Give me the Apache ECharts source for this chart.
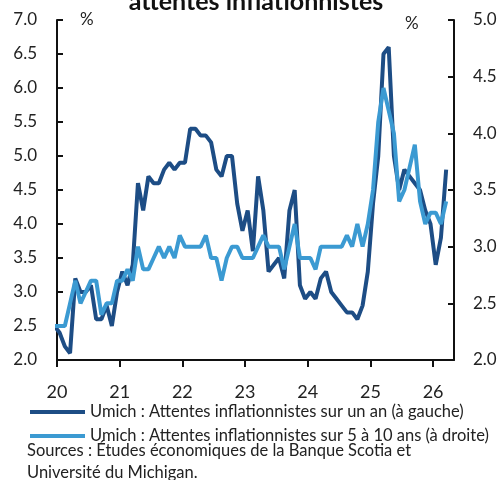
<!DOCTYPE html>
<html>
<head>
<meta charset="utf-8">
<script src="https://cdn.jsdelivr.net/npm/echarts@6/dist/echarts.min.js"></script>
<style>
  html, body { margin: 0; padding: 0; background: #fff; }
  #chart { width: 502px; height: 480px; }
</style>
</head>
<body>
<div id="chart"></div>
<script>
// months Jan 2020 .. Apr 2026
const months = [
  '2020-01','2020-02','2020-03','2020-04','2020-05','2020-06','2020-07','2020-08','2020-09','2020-10','2020-11','2020-12',
  '2021-01','2021-02','2021-03','2021-04','2021-05','2021-06','2021-07','2021-08','2021-09','2021-10','2021-11','2021-12',
  '2022-01','2022-02','2022-03','2022-04','2022-05','2022-06','2022-07','2022-08','2022-09','2022-10','2022-11','2022-12',
  '2023-01','2023-02','2023-03','2023-04','2023-05','2023-06','2023-07','2023-08','2023-09','2023-10','2023-11','2023-12',
  '2024-01','2024-02','2024-03','2024-04','2024-05','2024-06','2024-07','2024-08','2024-09','2024-10','2024-11','2024-12',
  '2025-01','2025-02','2025-03','2025-04','2025-05','2025-06','2025-07','2025-08','2025-09','2025-10','2025-11','2025-12',
  '2026-01','2026-02','2026-03','2026-04'
]

// Umich 1 an (axe gauche)
const oneYear = [
  2.5, 2.4, 2.2, 2.1, 3.2, 3.0, 3.0, 3.1, 2.6, 2.6, 2.8, 2.5,
  3.0, 3.3, 3.1, 3.4, 4.6, 4.2, 4.7, 4.6, 4.6, 4.8, 4.9, 4.8,
  4.9, 4.9, 5.4, 5.4, 5.3, 5.3, 5.2, 4.8, 4.7, 5.0, 5.0, 4.3,
  3.9, 4.2, 3.6, 4.7, 4.2, 3.3, 3.4, 3.5, 3.2, 4.2, 4.5, 3.1,
  2.9, 3.0, 2.9, 3.2, 3.3, 3.0, 2.9, 2.8, 2.7, 2.7, 2.6, 2.8,
  3.3, 4.3, 5.0, 6.5, 6.6, 5.0, 4.5, 4.8, 4.7, 4.6, 4.5, 4.2,
  4.0, 3.4, 3.8, 4.8
]

// Umich 5 à 10 ans (axe droit)
const fiveTenYear = [
  2.3, 2.3, 2.3, 2.5, 2.7, 2.5, 2.6, 2.7, 2.7, 2.4, 2.5, 2.5,
  2.7, 2.7, 2.8, 2.7, 3.0, 2.8, 2.8, 2.9, 3.0, 2.9, 3.0, 2.9,
  3.1, 3.0, 3.0, 3.0, 3.0, 3.1, 2.9, 2.9, 2.7, 2.9, 3.0, 3.0,
  2.9, 2.9, 2.9, 3.0, 3.1, 3.0, 3.0, 3.0, 2.8, 3.0, 3.2, 2.9,
  2.9, 2.9, 2.8, 3.0, 3.0, 3.0, 3.0, 3.0, 3.1, 3.0, 3.2, 3.0,
  3.2, 3.5, 4.1, 4.4, 4.2, 4.0, 3.4, 3.5, 3.7, 3.9, 3.4, 3.2,
  3.3, 3.3, 3.2, 3.4
]

const yearLabels = ['20', '21', '22', '23', '24', '25', '26']

const seriesNames = [
  'Umich : Attentes inflationnistes sur un an (à gauche)',
  'Umich : Attentes inflationnistes sur 5 à 10 ans (à droite)'
]

const FONT = 'Lato'
const DARK = '#1d4d85'
const LIGHT = '#3b9ad2'

// month index from Jan 2020
const monthIndex = (m) => {
  const [y, mo] = m.split('-').map(Number)
  return (y - 2020) * 12 + (mo - 1)
}
// year ticks sit half a month after each january point
const yearTicks = yearLabels.map((y, i) => i * 12 + 0.5)

const chart = echarts.init(document.getElementById('chart'), null, { renderer: 'canvas' })

const option = {
  animation: false,
  textStyle: { fontFamily: FONT },
  grid: {
    left: 57,
    right: 48,
    top: 20,
    bottom: 120,
    outerBoundsMode: 'none'
  },
  graphic: [
    {
      type: 'text',
      x: 256,
      y: -11,
      style: {
        text: 'attentes inflationnistes',
        font: 'bold 25px ' + FONT,
        textAlign: 'center',
        fill: '#111'
      }
    },
    {
      type: 'text', x: 80, y: 11,
      style: { text: '%', font: '17px ' + FONT, fill: '#222' }
    },
    {
      type: 'text', x: 405, y: 15,
      style: { text: '%', font: '17px ' + FONT, fill: '#222' }
    },
    {
      type: 'text', x: 27, y: 440,
      style: {
        text: 'Sources : Études économiques de la Banque Scotia et\nUniversité du Michigan.',
        font: '16.5px ' + FONT,
        lineHeight: 22,
        fill: '#222'
      }
    }
  ],
  legend: {
    orient: 'vertical',
    left: 30,
    top: 403,
    icon: 'rect',
    itemWidth: 55,
    itemHeight: 4,
    itemGap: 6,
    padding: 0,
    textStyle: { fontSize: 16.5, lineHeight: 18, color: '#222', fontFamily: FONT },
    data: seriesNames
  },
  xAxis: {
    type: 'value',
    min: 0.5,
    max: 76.5,
    splitLine: { show: false },
    axisLine: { show: true, lineStyle: { color: '#111', width: 2 } },
    axisTick: {
      show: true,
      length: 7,
      lineStyle: { color: '#111', width: 2 },
      customValues: yearTicks
    },
    axisLabel: {
      customValues: yearTicks,
      margin: 23,
      fontSize: 18,
      color: '#222',
      formatter: (v) => yearLabels[Math.round((v - 0.5) / 12)] || ''
    }
  },
  yAxis: [
    {
      type: 'value',
      min: 2,
      max: 7,
      interval: 0.5,
      splitLine: { show: false },
      axisLine: { show: true, lineStyle: { color: '#111', width: 2 } },
      axisTick: { show: true, inside: true, length: 6, lineStyle: { color: '#111', width: 2 } },
      axisLabel: { margin: 20, fontSize: 17, color: '#222', formatter: (v) => v.toFixed(1) }
    },
    {
      type: 'value',
      min: 2,
      max: 5,
      interval: 0.5,
      position: 'right',
      splitLine: { show: false },
      axisLine: { show: true, lineStyle: { color: '#111', width: 2 } },
      axisTick: { show: true, inside: true, length: 6, lineStyle: { color: '#111', width: 2 } },
      axisLabel: { margin: 19, fontSize: 17, color: '#222', formatter: (v) => v.toFixed(1) }
    }
  ],
  series: [
    {
      name: seriesNames[0],
      type: 'line',
      yAxisIndex: 0,
      symbol: 'none',
      clip: true,
      color: DARK,
      lineStyle: { width: 4, color: DARK },
      data: months.map((m, i) => [monthIndex(m), oneYear[i]])
    },
    {
      name: seriesNames[1],
      type: 'line',
      yAxisIndex: 1,
      symbol: 'none',
      clip: true,
      color: LIGHT,
      lineStyle: { width: 4, color: LIGHT },
      data: months.map((m, i) => [monthIndex(m), fiveTenYear[i]])
    }
  ]
}

chart.setOption(option)
</script>
</body>
</html>
